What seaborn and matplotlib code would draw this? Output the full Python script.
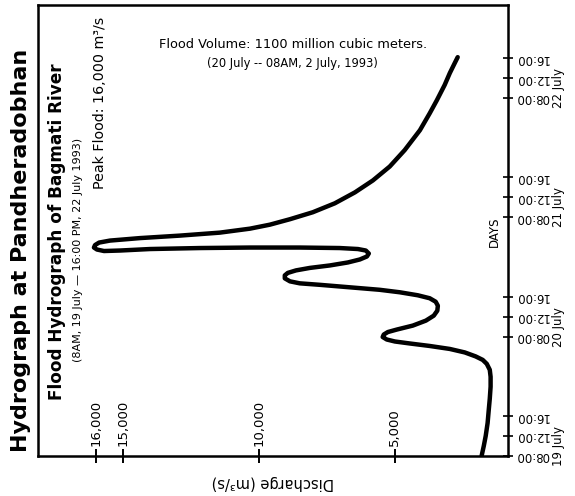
import pandas as pd
import numpy as np
import matplotlib
matplotlib.use('Agg')
import matplotlib.pyplot as plt
import seaborn as sns

# hydrograph: discharge (m3/s) vs hours after 00:00, 19 July
discharge = [1800, 1720, 1650, 1580, 1540, 1500, 1470, 1470, 1500, 1610,
             1760, 2020, 2420, 2970, 3710, 4440, 4990, 5290, 5440, 5400,
             5250, 4920, 4330, 3850, 3560, 3430, 3410, 3490, 3710, 4150,
             4810, 5550, 6650, 7750, 8490, 8850, 9040, 9040, 8930, 8630,
             8120, 7380, 6720, 6280, 6020, 5950, 6060, 6350, 7020, 8490,
             10320, 12160, 14000, 15100, 15690, 15950, 16060, 16020, 15870, 15470,
             14370, 12900, 11430, 10320, 9590, 8850, 8010, 7200, 6460, 5800,
             5180, 4630, 4070, 3710, 3450, 3160, 2970, 2790, 2680]
hours = [8.0, 10.0, 12.0, 14.6, 17.1, 19.5, 21.9, 23.9, 25.3, 26.5,
         27.3, 28.0, 28.8, 29.5, 30.1, 30.6, 31.0, 31.4, 31.9, 32.4,
         32.9, 33.4, 34.2, 35.2, 36.2, 37.2, 38.2, 39.0, 39.7, 40.3,
         40.9, 41.4, 41.9, 42.4, 42.7, 43.1, 43.7, 44.3, 44.8, 45.3,
         45.8, 46.3, 46.9, 47.5, 48.1, 48.7, 49.3, 49.6, 49.8, 49.9,
         49.9, 49.8, 49.6, 49.3, 49.2, 49.5, 49.9, 50.4, 50.9, 51.3,
         51.8, 52.3, 52.9, 53.7, 54.5, 55.6, 57.0, 58.8, 61.0, 63.4,
         66.2, 69.5, 73.5, 76.9, 79.5, 82.6, 85.0, 87.0, 88.2]

q_ticks = [16000, 15000, 10000, 5000]
q_labels = ['16,000', '15,000', '10,000', '5,000']
day_names = ['19 July', '20 July', '21 July', '22 July']
day_start = [0, 24, 48, 72]
hour_of_day = [8, 12, 16]
hour_labels = ['08:00', '12:00', '16:00']

df = pd.DataFrame({'Discharge': discharge, 'Hours': hours})

sns.set_style('white', {'text.color': 'black', 'axes.labelcolor': 'black',
                        'xtick.color': 'black', 'ytick.color': 'black',
                        'axes.edgecolor': 'black'})
plt.rcParams['font.family'] = ['DejaVu Sans']

fig = plt.figure(figsize=(5.75, 4.96), dpi=100)
ax = fig.add_axes([0.066, 0.081, 0.817, 0.909])

sns.lineplot(data=df, x='Discharge', y='Hours', sort=False, estimator=None,
             color='black', linewidth=3.2, solid_joinstyle='round',
             solid_capstyle='round', ax=ax)

ax.set_xlim(18120, 840)
ax.set_ylim(8, 98.7)

for s in ax.spines.values():
    s.set_visible(True)
    s.set_color('black')
    s.set_linewidth(1.8)

# discharge axis, labels standing inside the box
ax.set_xticks(q_ticks, q_labels)
ax.tick_params(axis='x', direction='inout', length=10, width=1.4, pad=-12,
               labelsize=9.5, labelrotation=90, bottom=True)
plt.setp(ax.get_xticklabels(), va='bottom', ha='center')
ax.set_xlabel('Discharge (m³/s)', rotation=180, fontsize=10.5, labelpad=9)

# days axis on the right
yt = [d + h for d in day_start for h in hour_of_day]
yl = [l for d in day_start for l in hour_labels]
ax.yaxis.tick_right()
ax.set_yticks(yt, yl)
ax.tick_params(axis='y', which='major', direction='inout', length=7, width=1.2,
               pad=2, labelsize=8.5, labelrotation=180, right=True, left=False)
plt.setp(ax.get_yticklabels(), va='center')
ax.set_yticks([d + 10 for d in day_start], day_names, minor=True)
ax.tick_params(axis='y', which='minor', length=0, pad=32, labelsize=8.5,
               labelrotation=90)
plt.setp(ax.get_yticklabels(minor=True), va='center')
ax.set_ylabel('')

fig.text(21/575, 1-250/496, 'Hydrograph at Pandheradobhan', rotation=90,
         fontsize=16, fontweight='bold', ha='center', va='center')
fig.text(57/575, 1-232/496, 'Flood Hydrograph of Bagmati River', rotation=90,
         fontsize=12.2, fontweight='bold', ha='center', va='center')
fig.text(78/575, 1-250/496, '(8AM, 19 July — 16:00 PM, 22 July 1993)', rotation=90,
         fontsize=8, ha='center', va='center')
fig.text(100/575, 1-103/496, 'Peak Flood: 16,000 m³/s', rotation=90,
         fontsize=10.3, ha='center', va='center')
fig.text(293/575, 1-45/496, 'Flood Volume: 1100 million cubic meters.',
         fontsize=9.3, ha='center', va='center')
fig.text(292/575, 1-64/496, '(20 July -- 08AM, 2 July, 1993)',
         fontsize=8.3, ha='center', va='center')
fig.text(494/575, 1-232/496, 'DAYS', rotation=90, fontsize=8.5,
         ha='center', va='center')

fig.savefig('out.png', dpi=100)
